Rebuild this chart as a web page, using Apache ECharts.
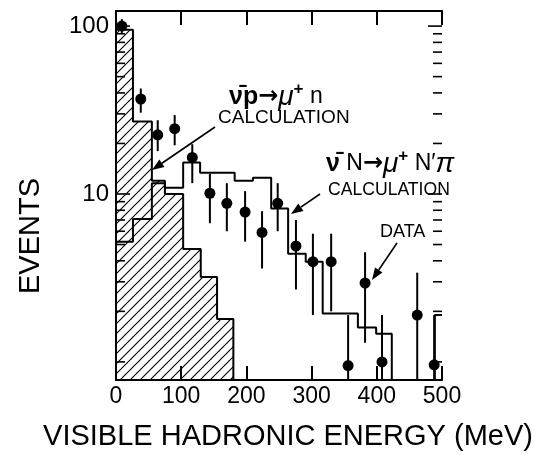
<!DOCTYPE html>
<html><head><meta charset="utf-8">
<script src="https://cdn.jsdelivr.net/npm/echarts@6/dist/echarts.min.js"></script>
<style>html,body{margin:0;padding:0;background:#fff}#c{width:546px;height:455px}</style>
</head><body><div id="c"></div>
<script>
// ν̄p → μ+n calculation (hatched histogram): bin edges (MeV) and events
const calcPEdges = [0, 26, 55, 75, 103, 130, 155, 180];
const calcPValues = [95, 27, 12, 10, 4.7, 3.2, 1.8];
// ν̄N → μ+N'π calculation (open histogram)
const calcNEdges = [0, 26, 55, 75, 103, 129, 182, 210, 238, 264, 291, 317, 371, 399, 423];
const calcNValues = [5.2, 7.1, 11.6, 10.9, 15.4, 13.4, 12, 12.5, 8.2, 4.4, 3.95, 1.94, 1.6, 1.47];
const calcNTailEdges = [489, 500];
const calcNTailValues = [1.9];
// data points with error bars
const dataX  = [9, 38, 64, 90, 117, 144, 170, 198, 224, 248, 276, 302, 330, 356, 382, 408, 462, 488];
const dataY  = [100, 36.8, 22.5, 24.5, 16.5, 10.1, 8.8, 7.8, 5.9, 8.8, 4.9, 3.95, 3.95, 0.95, 2.95, 1, 1.9, 0.96];
const dataLo = [91, 30.5, 18, 19.5, 11.6, 6.7, 6, 5.2, 3.6, 6, 2.7, 1.9, 2.0, 0.3, 1.3, 0.3, 0.3, 0.3];
const dataHi = [110, 42.5, 27.5, 29.5, 19.8, 13.2, 11.6, 10.4, 7.9, 11.6, 7, 5.8, 5.8, 1.9, 4.5, 1.9, 3.4, 1.9];
// axis ticks
const xTickLabels = ['0', '100', '200', '300', '400', '500'];
const yLabelValues = [10, 100];
const yMajorTicks = [10, 100];
const yMinorTicks = [1, 2, 3, 4, 5, 6, 7, 8, 9, 20, 30, 40, 50, 60, 70, 80, 90];

const FONT = "'Liberation Sans', Arial, sans-serif";
const chart = echarts.init(document.getElementById('c'), null, {renderer: 'canvas'});

// hatch pattern "/"
const pc = document.createElement('canvas'); pc.width = 10; pc.height = 10;
const g = pc.getContext('2d'); g.strokeStyle = '#000'; g.lineWidth = 1.1;
g.beginPath(); g.moveTo(-2, 12); g.lineTo(12, -2); g.moveTo(-2, 2); g.lineTo(2, -2); g.moveTo(8, 12); g.lineTo(12, 8); g.stroke();

function stepPoints(edges, values, floor) {
  const pts = [];
  edges.forEach((e, i) => pts.push([e, values[Math.min(i, values.length - 1)]]));
  pts.push([edges[edges.length - 1], floor]);
  return pts;
}
const BELOW = 0.1;
const hatchPts = stepPoints(calcPEdges, calcPValues, BELOW);
const openPts = stepPoints(calcNEdges, calcNValues, BELOW)
  .concat([[calcNTailEdges[0], BELOW]])
  .concat(calcNTailEdges.map((e, i) => [e, calcNTailValues[Math.min(i, calcNTailValues.length - 1)]]));

const axisLine = {show: true, lineStyle: {color: '#000', width: 2}};
const xBase = {type: 'value', min: 0, max: 500, interval: 100, axisLine,
  axisTick: {show: true, inside: true, length: 14, lineStyle: {color: '#000', width: 2}},
  splitLine: {show: false}};
const yBase = {type: 'log', logBase: 10, min: 0.78, max: 123, axisLine,
  axisTick: {show: false}, splitLine: {show: false}};

function arrow(x1, y1, x2, y2) {
  const a = Math.atan2(y2 - y1, x2 - x1), L = 12, W = 4.5;
  const bx = x2 - L * Math.cos(a), by = y2 - L * Math.sin(a);
  const px = -Math.sin(a) * W, py = Math.cos(a) * W;
  return [
    {type: 'line', shape: {x1, y1, x2: bx, y2: by}, style: {stroke: '#000', lineWidth: 1.6}, z: 20},
    {type: 'polygon', shape: {points: [[x2, y2], [bx + px, by + py], [bx - px, by - py]]}, style: {fill: '#000'}, z: 20}
  ];
}
const rich = {
  a: {fontFamily: FONT, fontSize: 25, fontWeight: 'bold', color: '#000'},
  r: {fontFamily: FONT, fontSize: 23, color: '#000'},
  b: {fontFamily: "'DejaVu Sans', sans-serif", fontSize: 24, fontWeight: 'bold', color: '#000'},
  c: {fontFamily: FONT, fontSize: 28, fontStyle: 'italic', color: '#000'},
  s: {fontFamily: FONT, fontSize: 17, fontWeight: 'bold', color: '#000', padding: [0, 0, 16, 0]}
};
function label(x, y, text, size) {
  return {type: 'text', x, y, z: 20, style: {text, fontFamily: FONT, fontSize: size, fill: '#000', verticalAlign: 'middle', align: 'left', rich}};
}
function tickLine(p, dx) {
  return {type: 'line', shape: {x1: p[0], y1: p[1], x2: p[0] + dx, y2: p[1]}, style: {stroke: '#000', lineWidth: 1.6}};
}

chart.setOption({
  animation: false,
  backgroundColor: '#fff',
  grid: {left: 116, right: 104, top: 11, bottom: 75},
  xAxis: [
    Object.assign({}, xBase, {position: 'bottom',
      axisLabel: {show: true, margin: 5, fontSize: 23, color: '#000', fontFamily: FONT,
        formatter: (v) => xTickLabels[Math.round(v / 100)] || ''}}),
    Object.assign({}, xBase, {position: 'top', axisLabel: {show: false}})
  ],
  yAxis: [
    Object.assign({}, yBase, {position: 'left',
      axisLabel: {show: true, margin: 7, fontSize: 24, color: '#000', fontFamily: FONT,
        showMinLabel: false, showMaxLabel: false,
        formatter: (v) => { const m = yLabelValues.find(t => Math.abs(v - t) < 1e-6 * t); return m ? String(m) : ''; }}}),
    Object.assign({}, yBase, {position: 'right', axisLabel: {show: false}})
  ],
  series: [
    {type: 'line', step: 'end', data: hatchPts, symbol: 'none', z: 2,
      lineStyle: {color: '#000', width: 2},
      areaStyle: {origin: 'start', color: {image: pc, repeat: 'repeat'}, opacity: 1}},
    {type: 'line', step: 'end', data: openPts, symbol: 'none', z: 3,
      lineStyle: {color: '#000', width: 2}},
    {type: 'custom', z: 4, data: yMinorTicks.map(v => [0, v, 9]).concat(yMajorTicks.map(v => [0, v, 14])),
      renderItem: (params, api) => {
        const v = api.value(1), len = api.value(2);
        return {type: 'group', children: [
          tickLine(api.coord([0, v]), len), tickLine(api.coord([500, v]), -len)
        ]};
      }},
    {type: 'custom', z: 5, data: dataX.map((x, i) => [x, dataLo[i], dataHi[i]]),
      renderItem: (params, api) => {
        const cs = params.coordSys;
        const p1 = api.coord([api.value(0), api.value(1)]);
        const p2 = api.coord([api.value(0), api.value(2)]);
        const yb = Math.min(p1[1], cs.y + cs.height);
        return {type: 'line', shape: {x1: p1[0], y1: yb, x2: p2[0], y2: p2[1]}, style: {stroke: '#000', lineWidth: 2}};
      }},
    {type: 'scatter', z: 6, data: dataX.map((x, i) => [x, dataY[i]]), symbol: 'circle', symbolSize: 11,
      itemStyle: {color: '#000', opacity: 1}}
  ],
  graphic: [
    label(229, 97, '{a|\u03BD\u0304p}{b|\u2192}{c|\u03BC}{s|+}{r| n}', 20),
    label(218, 118, 'CALCULATION', 19),
    label(326, 164, '{a|\u03BD\u0304}{r| N}{b|\u2192}{c|\u03BC}{s|+}{r| N\u2032}{c|\u03C0}', 20),
    label(328, 190, 'CALCULATION', 17.6),
    label(380, 232, 'DATA', 18),
    {type: 'text', x: 288, y: 437, z: 20, style: {text: 'VISIBLE HADRONIC ENERGY (MeV)', fontFamily: FONT, fontSize: 29, fill: '#000', align: 'center', verticalAlign: 'middle'}},
    {type: 'text', x: 31, y: 236, rotation: Math.PI / 2, z: 20, style: {text: 'EVENTS', fontFamily: FONT, fontSize: 29, fill: '#000', align: 'center', verticalAlign: 'middle'}}
  ].concat(arrow(215, 127, 152, 170), arrow(320, 194, 291, 214), arrow(397, 243, 372, 280))
});
</script></body></html>
